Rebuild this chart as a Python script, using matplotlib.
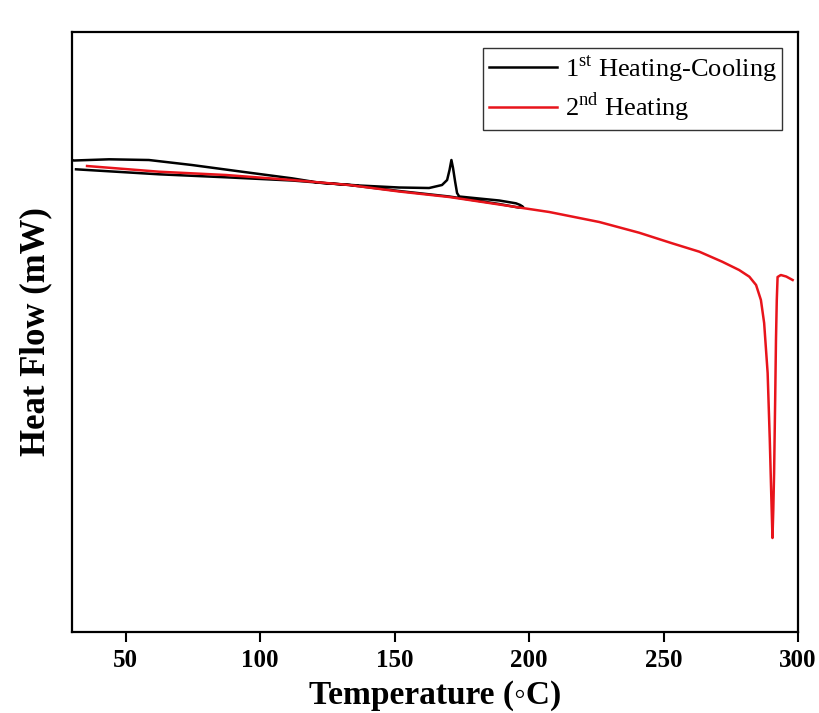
import matplotlib
matplotlib.use("Agg")
import matplotlib.pyplot as plt

plt.rcParams['font.family'] = ['Liberation Serif', 'DejaVu Sans']
plt.rcParams['mathtext.fontset'] = 'custom'
plt.rcParams['mathtext.rm'] = 'Liberation Serif'
plt.rcParams['mathtext.bf'] = 'Liberation Serif:bold'

# 1st heating-cooling run (black): heating up to ~198 C, then cooling back
run1_temp = [30.0, 30.7, 43.8, 58.6, 74.6, 93.2, 111.8, 121.9, 136.8, 151.7,
             162.8, 167.6, 169.5, 170.4, 171.1, 171.7, 172.5, 173.2, 174.0,
             181.4, 188.9, 195.1, 196.7, 197.8,
             196.0, 188.9, 170.3, 151.7, 133.1, 111.8, 87.3, 62.4, 31.5]
run1_flow = [0.0, -0.005, 0.007, 0.0, -0.05, -0.117, -0.183, -0.227, -0.255, -0.275,
             -0.28, -0.25, -0.20, -0.10, 0.0, -0.08, -0.22, -0.33, -0.365,
             -0.385, -0.405, -0.433, -0.45, -0.47,
             -0.475, -0.44, -0.365, -0.31, -0.25, -0.205, -0.173, -0.143, -0.093]

# 2nd heating run (red)
run2_temp = [35.6, 62.4, 87.3, 111.8, 133.1, 151.7, 170.3, 188.9, 207.5, 226.1,
             240.9, 253.2, 263.3, 271.8, 278.1, 281.9, 284.4, 286.2, 287.4,
             288.7, 289.5, 290.1, 290.5, 290.8, 291.1, 291.5, 291.8, 292.1,
             292.4, 293.6, 295.6, 298.0]
run2_flow = [-0.06, -0.117, -0.15, -0.20, -0.25, -0.315, -0.37, -0.445, -0.52, -0.62,
             -0.727, -0.833, -0.917, -1.017, -1.10, -1.167, -1.25, -1.40, -1.63,
             -2.13, -2.80, -3.40, -3.78, -3.50, -3.13, -2.40, -1.80, -1.40,
             -1.17, -1.15, -1.165, -1.20]

fig = plt.figure(figsize=(8.2, 7.13), dpi=100)
ax = fig.add_axes([0.0878, 0.1136, 0.8854, 0.8415])

ax.plot(run1_temp, run1_flow, color='black', lw=1.8, label=r'1$^{\mathrm{st}}$ Heating-Cooling')
ax.plot(run2_temp, run2_flow, color='#e8141b', lw=1.8, label=r'2$^{\mathrm{nd}}$ Heating')

ax.set_xlim(30, 300)
ax.set_ylim(-4.72, 1.28)
ax.set_xticks([50, 100, 150, 200, 250, 300])
ax.set_yticks([])
ax.tick_params(axis='x', direction='out', length=7, width=1.5, pad=5, labelsize=18)
for lbl in ax.get_xticklabels():
    lbl.set_fontweight('bold')
for sp in ax.spines.values():
    sp.set_linewidth(1.6)

ax.set_xlabel('Temperature (\u25e6C)', fontsize=24, fontweight='bold', va='center')
ax.xaxis.set_label_coords(0.5, -0.105)
ax.set_ylabel('Heat Flow (mW)', fontsize=25, fontweight='bold', labelpad=14)

leg = ax.legend(loc='upper right', fontsize=19, frameon=True, fancybox=False,
                edgecolor='black', handlelength=2.6, handletextpad=0.3,
                borderaxespad=0.6, labelspacing=0.25, borderpad=0.2)
leg.get_frame().set_linewidth(1.0)

fig.savefig('out.png', dpi=100)
